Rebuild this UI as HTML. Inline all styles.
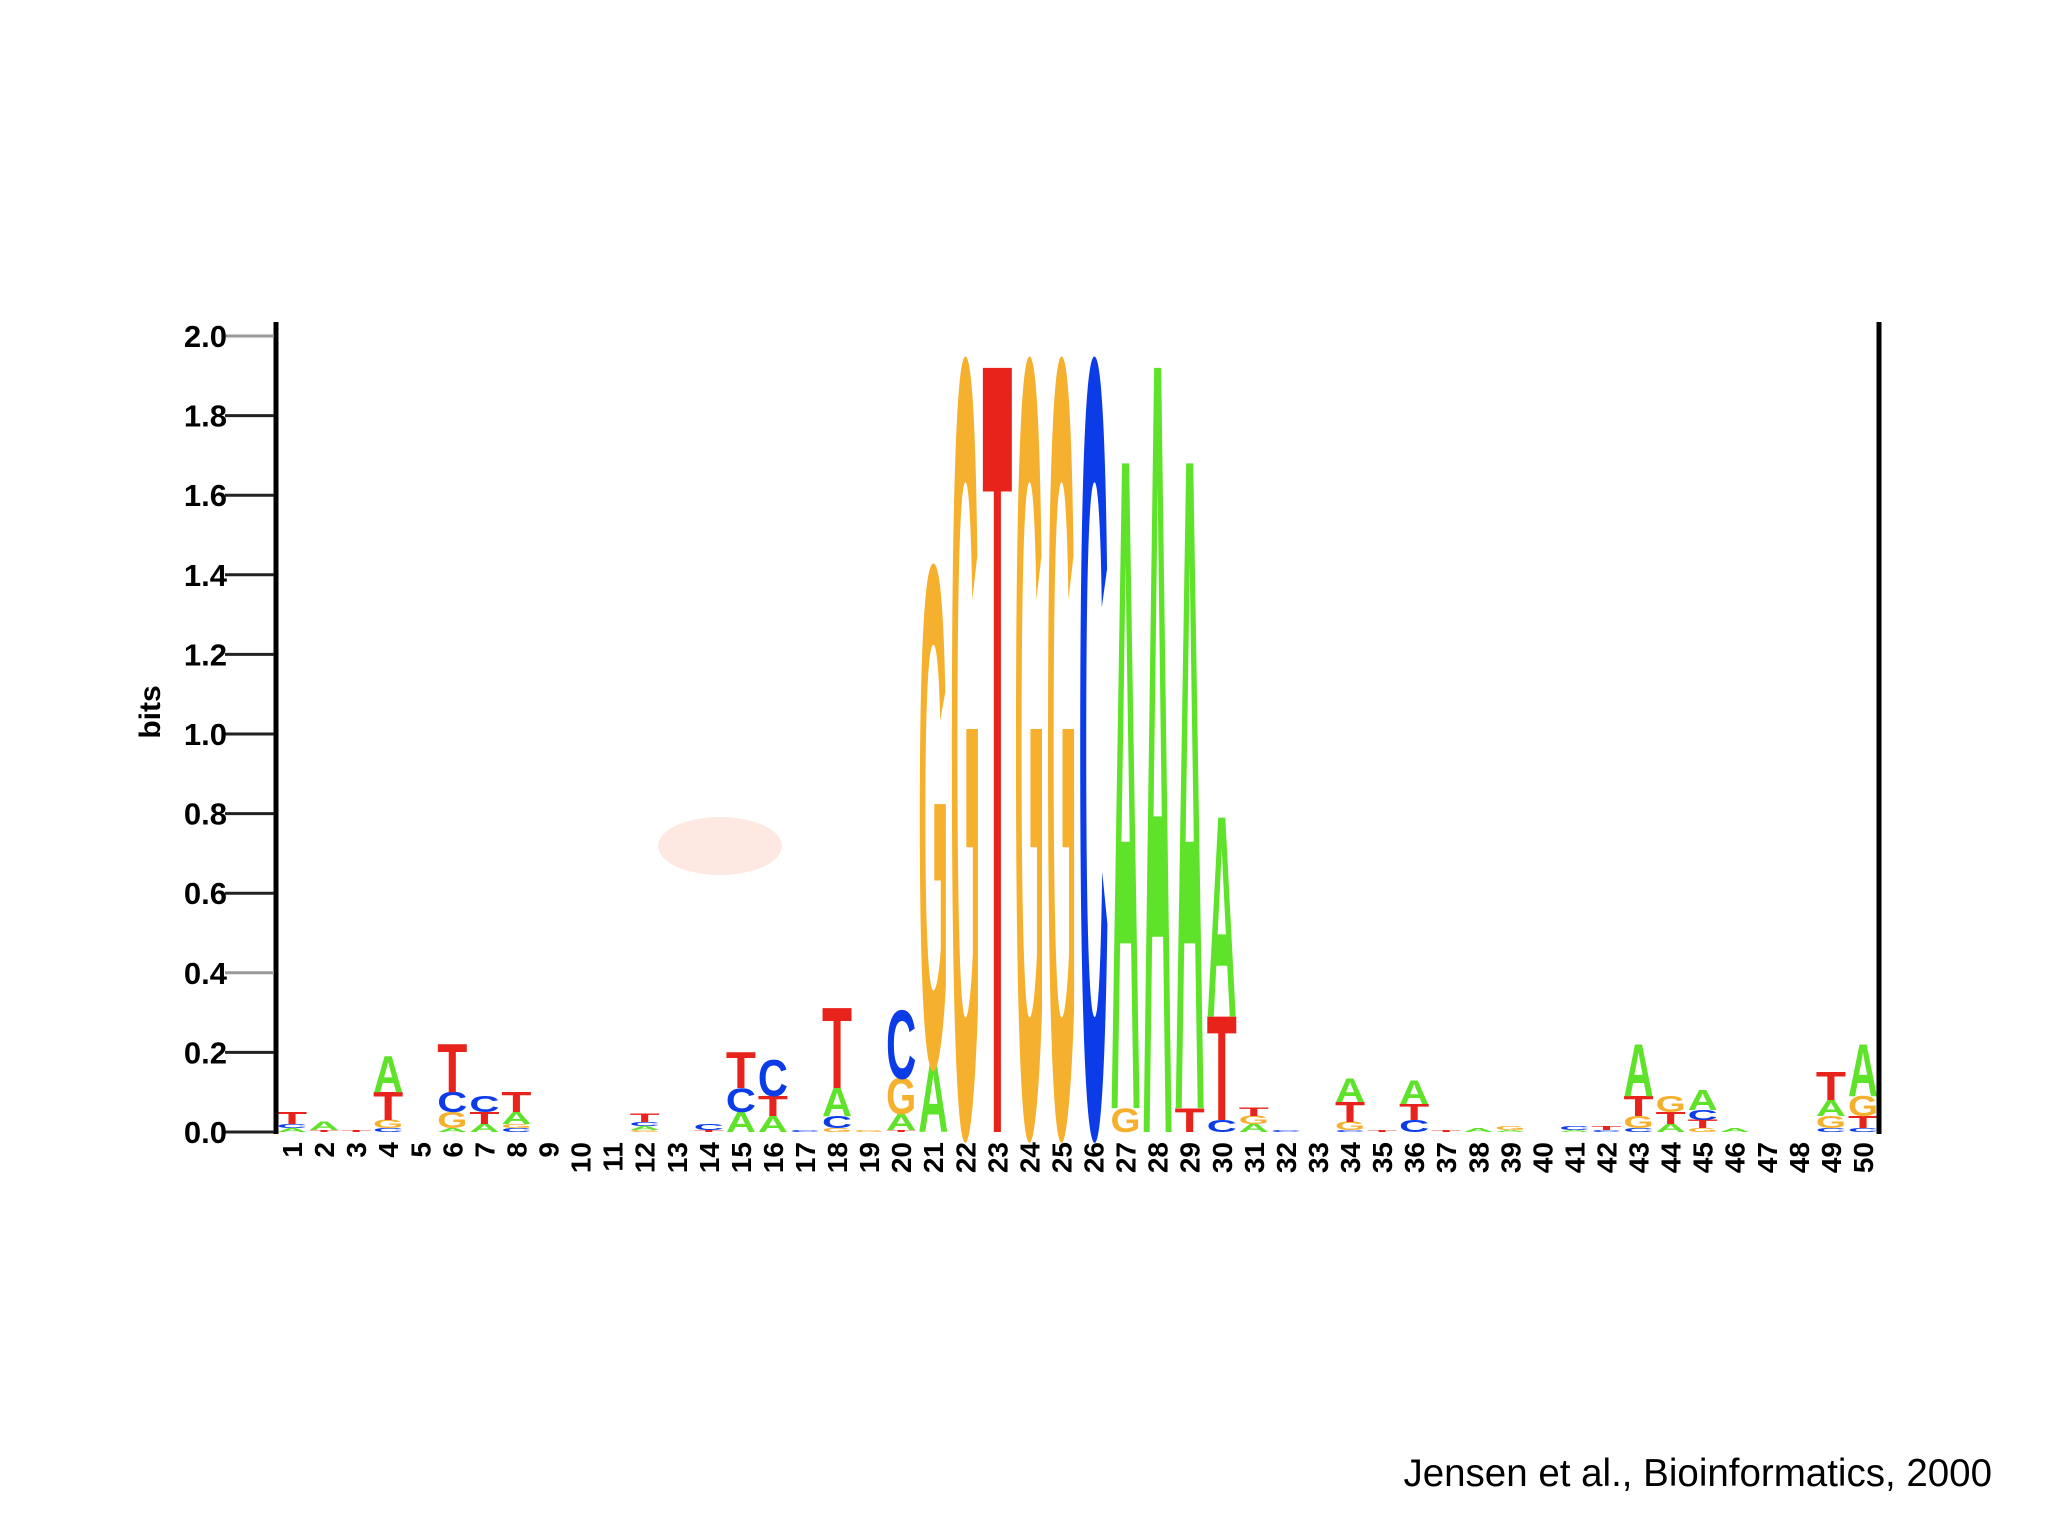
<!DOCTYPE html>
<html><head><meta charset="utf-8"><style>
html,body{margin:0;padding:0;background:#fff;}
svg{display:block;}
text{font-family:"Liberation Sans",sans-serif;}
</style></head><body>
<svg id="chart" width="2048" height="1536" viewBox="0 0 2048 1536" xmlns="http://www.w3.org/2000/svg">
<rect width="2048" height="1536" fill="#fff"/>
<ellipse cx="720" cy="846" rx="62" ry="29" fill="#fde9e2"/>
<g id="marks"></g>
<g id="axes"></g>
<text x="1992" y="1486" font-size="38.5" text-anchor="end" fill="#000">Jensen et al., Bioinformatics, 2000</text>
</svg>
<script>
const positions = [1,2,3,4,5,6,7,8,9,10,11,12,13,14,15,16,17,18,19,20,21,22,23,24,25,26,27,28,29,30,31,32,33,34,35,36,37,38,39,40,41,42,43,44,45,46,47,48,49,50];
const aVals = [0.01,0.02,0,0.09,0,0.01,0.02,0.03,0,0, 0,0.01,0,0,0.05,0.04,0,0.07,0,0.04, 0.17,0,0,0,0,0,1.62,1.92,1.62,0.50, 0.02,0,0,0.06,0,0.06,0,0.01,0.005,0, 0.005,0,0.13,0.02,0.05,0.01,0,0,0.04,0.13];
const cVals = [0.01,0,0,0.01,0,0.05,0.04,0.01,0,0, 0,0.01,0,0.015,0.06,0.09,0.005,0.03,0,0.17, 0,0,0,0,0,1.92,0,0,0,0.03, 0,0.005,0,0.005,0,0.03,0,0,0,0, 0.01,0.005,0.01,0,0.025,0,0,0,0.01,0.01];
const gVals = [0,0,0,0.02,0,0.04,0,0.01,0,0, 0,0.005,0,0,0,0,0,0.01,0.005,0.09, 1.24,1.92,0,1.92,1.92,0,0.06,0,0,0, 0.02,0,0,0.02,0,0,0,0,0.01,0, 0,0,0.03,0.04,0.01,0,0,0,0.03,0.05];
const tVals = [0.03,0.005,0.005,0.07,0,0.12,0.03,0.05,0,0, 0,0.02,0,0.005,0.09,0.05,0,0.2,0,0.005, 0,0,1.92,0,0,0,0,0,0.06,0.26, 0.02,0,0,0.05,0.005,0.04,0.005,0,0,0, 0,0.01,0.05,0.03,0.02,0,0,0,0.07,0.03];
const yTicks = [0,0.2,0.4,0.6,0.8,1.0,1.2,1.4,1.6,1.8,2.0];
const yTickLabels = ["0.0","0.2","0.4","0.6","0.8","1.0","1.2","1.4","1.6","1.8","2.0"];

const NS = "http://www.w3.org/2000/svg";
const X0 = 276, X1 = 1879, Y0 = 1132, Y2 = 336;
const colW = (X1 - X0) / positions.length;
function xScale(i){ return X0 + i * colW; }
function yScale(v){ return Y0 - v * (Y0 - Y2) / 2; }
const colors = {A:"#5fe32a", C:"#0c3ce8", G:"#f5b02e", T:"#e8231c"};
const marks = document.getElementById('marks');
const axes = document.getElementById('axes');

positions.forEach((p, i) => {
  const stack = [['A',aVals[i]],['C',cVals[i]],['G',gVals[i]],['T',tVals[i]]]
    .filter(d => d[1] > 0).sort((a,b) => a[1]-b[1]);
  let base = 0;
  stack.forEach(([L, v]) => {
    const yb = yScale(base), yt = yScale(base + v);
    const h = yb - yt;
    const t = document.createElementNS(NS, 'text');
    
    
    t.setAttribute('font-size', '100');
    t.setAttribute('font-weight', 'bold');
    t.setAttribute('fill', colors[L]);
    t.setAttribute('textLength', (colW - 2).toFixed(2));
    t.setAttribute('lengthAdjust', 'spacingAndGlyphs');
    t.setAttribute('transform', `translate(${(xScale(i)+1).toFixed(2)},${yb.toFixed(2)}) scale(1,${(h/68.8).toFixed(5)})`);
    t.textContent = L;
    marks.appendChild(t);
    base += v;
  });
  const lbl = document.createElementNS(NS, 'text');
  
  
  lbl.setAttribute('font-size', '28');
  lbl.setAttribute('font-weight', 'bold');
  lbl.setAttribute('text-anchor', 'end');
  const cx = xScale(i) + colW/2 + 10;
  lbl.setAttribute('transform', `translate(${cx.toFixed(2)},1142) rotate(-90)`);
  lbl.textContent = p;
  axes.appendChild(lbl);
});

function line(x1,y1,x2,y2,w,c,name){
  const l = document.createElementNS(NS,'line');
  
  
  l.setAttribute('x1',x1); l.setAttribute('y1',y1); l.setAttribute('x2',x2); l.setAttribute('y2',y2);
  l.setAttribute('stroke',c); l.setAttribute('stroke-width',w);
  axes.appendChild(l);
}
line(276,322,276,1134,5,'#000','y-axis-line');
line(1879,322,1879,1134,5,'#000','right-axis-line');
yTicks.forEach((v, k) => {
  const y = yScale(v);
  line(225,y,274,y,3,(v===2.0||v===0.4)?'#999':'#222','y-tick');
  const t = document.createElementNS(NS,'text');
  
  
  t.setAttribute('x', 227); t.setAttribute('y', y + 11);
  t.setAttribute('font-size', '31'); t.setAttribute('font-weight', 'bold');
  t.setAttribute('text-anchor', 'end');
  t.textContent = yTickLabels[k];
  axes.appendChild(t);
});
const yt = document.createElementNS(NS,'text');


yt.setAttribute('font-size', '30'); yt.setAttribute('font-weight', 'bold');
yt.setAttribute('text-anchor', 'middle');
yt.setAttribute('transform', 'translate(160,712) rotate(-90)');
yt.textContent = 'bits';
axes.appendChild(yt);
</script>
</body></html>
